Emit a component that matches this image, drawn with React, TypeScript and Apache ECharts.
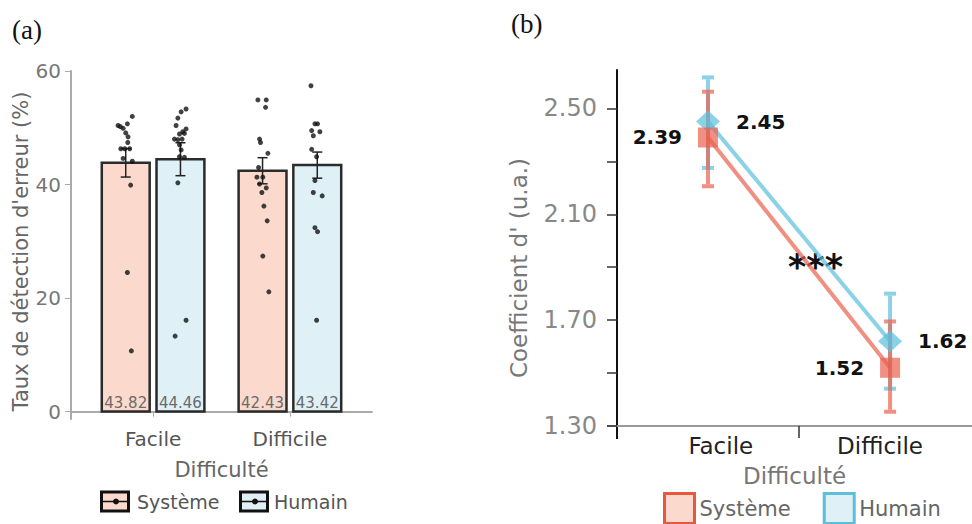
import React, { useEffect, useRef } from 'react';
import * as echarts from 'echarts';

// ---------- shared ----------
const categories = ['Facile', 'Difficile'];

// ---------- panel (a): taux de détection ----------
const yTicksA = [0, 20, 40, 60];
const meanSysteme = [43.82, 42.43];
const meanHumain = [44.46, 43.42];
const seSysteme = [2.5, 2.3];
const seHumain = [2.9, 2.3];

const ptsSystemeFacile = [52.0, 50.7, 50.4, 50.2, 49.9, 49.1, 48.4, 47.4, 46.3, 46.3, 46.3, 44.6, 44.1, 39.9, 24.5, 10.7];
const jitSystemeFacile = [0.048, 0.012, -0.056, -0.039, -0.019, 0, 0.017, 0.015, -0.036, -0.007, 0.029, -0.019, 0.048, 0.036, 0.012, 0.041];
const ptsHumainFacile = [53.3, 52.8, 51.7, 50.4, 49.8, 49.3, 48.9, 49.0, 48.0, 47.9, 48.0, 47.0, 46.1, 44.9, 44.8, 40.3, 16.1, 13.3];
const jitHumainFacile = [0.041, 0.005, -0.019, -0.032, 0.041, 0.017, -0.007, 0.029, -0.044, -0.019, 0.012, -0.007, 0.005, -0.007, 0.029, -0.019, 0.041, -0.039];
const ptsSystemeDifficile = [54.9, 54.9, 53.6, 48.0, 47.4, 45.5, 43.0, 41.3, 41.3, 40.1, 39.4, 38.6, 36.2, 33.6, 27.4, 21.1];
const jitSystemeDifficile = [-0.034, 0.027, 0.022, -0.022, -0.015, 0.039, -0.029, -0.041, 0.002, -0.022, 0.027, -0.005, 0.01, 0.034, 0.002, 0.046];
const ptsHumainDifficile = [57.4, 50.7, 50.7, 49.5, 49.3, 48.6, 46.2, 44.9, 40.7, 38.6, 38.0, 32.4, 31.7, 16.1];
const jitHumainDifficile = [-0.046, -0.017, 0.002, -0.041, 0.019, -0.029, -0.041, -0.005, -0.017, -0.029, 0.036, -0.017, 0.002, -0.005];

// ---------- panel (b): coefficient d' ----------
const yTicksB = [1.3, 1.7, 2.1, 2.5];
const yTickMarksB = [1.3, 1.5, 1.7, 1.9, 2.1, 2.3, 2.5];
const dSysteme = [2.39, 1.52];
const dSystemeLo = [2.206, 1.354];
const dSystemeHi = [2.563, 1.695];
const dHumain = [2.45, 1.62];
const dHumainLo = [2.275, 1.441];
const dHumainHi = [2.617, 1.8];

const FONT = 'DejaVu Sans';
const BAR_W = 0.35;
const DODGE = 0.2;
const sysFill = '#fbdacd';
const humFill = '#dff0f6';
const sysLine = 'rgba(234,95,77,0.7)';
const humLine = 'rgba(91,191,220,0.7)';

function barSeries(name: string, means: number[], offset: number, fill: string) {
  return {
    type: 'custom',
    name,
    xAxisIndex: 0,
    yAxisIndex: 0,
    z: 2,
    silent: true,
    data: means.map((m, i) => [i + 1 + offset, m]),
    renderItem: (_p: any, api: any) => {
      const x = api.value(0) as number;
      const v = api.value(1) as number;
      const tl = api.coord([x - BAR_W / 2, v]);
      const br = api.coord([x + BAR_W / 2, 0]);
      return {
        type: 'group',
        children: [
          {
            type: 'rect',
            shape: { x: tl[0], y: tl[1], width: br[0] - tl[0], height: br[1] - tl[1] },
            style: { fill, stroke: '#2b2b2b', lineWidth: 2.5 },
          },
          {
            type: 'text',
            style: {
              text: v.toFixed(2),
              x: (tl[0] + br[0]) / 2,
              y: br[1] - 1,
              align: 'center',
              verticalAlign: 'bottom',
              fill: '#6b6b6b',
              fontSize: 15,
              fontFamily: FONT,
            },
          },
        ],
      };
    },
  };
}

function errSeriesA(name: string, means: number[], ses: number[], offset: number) {
  return {
    type: 'custom',
    name,
    xAxisIndex: 0,
    yAxisIndex: 0,
    z: 3,
    silent: true,
    data: means.map((m, i) => [i + 1 + offset, m - ses[i], m + ses[i]]),
    renderItem: (_p: any, api: any) => {
      const x = api.value(0);
      const a = api.coord([x, api.value(2)]);
      const b = api.coord([x, api.value(1)]);
      const c = 5;
      const st = { stroke: '#222', lineWidth: 1.5 };
      return {
        type: 'group',
        children: [
          { type: 'line', shape: { x1: a[0], y1: a[1], x2: b[0], y2: b[1] }, style: st },
          { type: 'line', shape: { x1: a[0] - c, y1: a[1], x2: a[0] + c, y2: a[1] }, style: st },
          { type: 'line', shape: { x1: b[0] - c, y1: b[1], x2: b[0] + c, y2: b[1] }, style: st },
        ],
      };
    },
  };
}

function pointSeries(name: string, vals: number[][], jit: number[][], offset: number) {
  const data: number[][] = [];
  vals.forEach((arr, ci) => arr.forEach((v, k) => data.push([ci + 1 + offset + jit[ci][k], v])));
  return {
    type: 'scatter',
    name,
    xAxisIndex: 0,
    yAxisIndex: 0,
    z: 4,
    silent: true,
    symbolSize: 5,
    itemStyle: { color: '#111' },
    data,
  };
}

function errSeriesB(name: string, lo: number[], hi: number[], color: string, z: number) {
  return {
    type: 'custom',
    name,
    xAxisIndex: 1,
    yAxisIndex: 1,
    z,
    silent: true,
    data: lo.map((l, i) => [i + 1, l, hi[i]]),
    renderItem: (_p: any, api: any) => {
      const x = api.value(0);
      const a = api.coord([x, api.value(2)]);
      const b = api.coord([x, api.value(1)]);
      const c = 6;
      const st = { stroke: color, lineWidth: 4 };
      return {
        type: 'group',
        children: [
          { type: 'line', shape: { x1: a[0], y1: a[1] + 2, x2: b[0], y2: b[1] - 2 }, style: st },
          { type: 'line', shape: { x1: a[0] - c, y1: a[1], x2: a[0] + c, y2: a[1] }, style: st },
          { type: 'line', shape: { x1: b[0] - c, y1: b[1], x2: b[0] + c, y2: b[1] }, style: st },
        ],
      };
    },
  };
}

function lineSeries(name: string, vals: number[], color: string, symbol: string, symbolSize: any, pos: string, z: number) {
  return {
    type: 'line',
    name,
    xAxisIndex: 1,
    yAxisIndex: 1,
    z,
    silent: true,
    data: vals.map((v, i) => [i + 1, v]),
    symbol,
    symbolSize,
    showSymbol: true,
    lineStyle: { color, width: 4 },
    itemStyle: { color },
    label: {
      show: true,
      position: pos,
      distance: 16,
      formatter: (p: any) => (p.value[1] as number).toFixed(2),
      fontSize: 20,
      fontWeight: 'bold',
      color: '#111',
      fontFamily: FONT,
    },
  };
}

const legendA = (x: number, fill: string, label: string, textX: number) => [
  { type: 'rect', shape: { x: x + 1.5, y: 492, width: 27, height: 19 }, style: { fill, stroke: '#111', lineWidth: 3 } },
  { type: 'line', shape: { x1: x + 1.5, y1: 501.5, x2: x + 28.5, y2: 501.5 }, style: { stroke: '#111', lineWidth: 1.5 } },
  { type: 'circle', shape: { cx: x + 16, cy: 501.5, r: 3 }, style: { fill: '#111' } },
  { type: 'text', x: textX, y: 501.5, style: { text: label, fontSize: 19, fontFamily: FONT, fill: '#555', verticalAlign: 'middle' } },
];

const option: any = {
  animation: false,
  backgroundColor: '#ffffff',
  grid: [
    { left: 71, right: 600, top: 71, bottom: 105 },
    { left: 617, right: 0, top: 70, bottom: 98 },
  ],
  xAxis: [
    {
      type: 'value',
      gridIndex: 0,
      min: 0.4,
      max: 2.6,
      splitLine: { show: false },
      axisLine: { show: true, lineStyle: { color: '#aaaaaa', width: 2 } },
      axisTick: { show: true, customValues: [1, 2], length: 5, lineStyle: { color: '#aaaaaa' } },
      axisLabel: {
        customValues: [1, 2],
        formatter: (v: number) => categories[Math.round(v) - 1],
        color: '#555',
        fontSize: 20,
        fontFamily: FONT,
        margin: 10,
      },
      name: 'Difficulté',
      nameLocation: 'middle',
      nameGap: 40,
      nameTextStyle: { fontSize: 21, color: '#666', fontFamily: FONT },
    },
    {
      type: 'value',
      gridIndex: 1,
      min: 0.5,
      max: 2.45,
      splitLine: { show: false },
      axisLine: { show: true, lineStyle: { color: '#999999', width: 2 } },
      axisTick: { show: true, customValues: [1.5], length: 12, lineStyle: { color: '#333', width: 1.5 } },
      axisLabel: {
        customValues: [1.07, 1.945],
        formatter: (v: number) => (v < 1.5 ? categories[0] : categories[1]),
        color: '#222',
        fontSize: 23,
        fontFamily: FONT,
        margin: 8,
      },
      name: 'Difficulté',
      nameLocation: 'middle',
      nameGap: 38,
      nameTextStyle: { fontSize: 23, color: '#777', fontFamily: FONT },
    },
  ],
  yAxis: [
    {
      type: 'value',
      gridIndex: 0,
      min: -1.3,
      max: 60,
      splitLine: { show: false },
      axisLine: { show: true, lineStyle: { color: '#aaaaaa', width: 2 } },
      axisTick: { show: true, customValues: yTicksA, length: 6, lineStyle: { color: '#aaaaaa' } },
      axisLabel: { customValues: yTicksA, color: '#777', fontSize: 20, fontFamily: FONT, margin: 10 },
      name: "Taux de détection d'erreur (%)",
      nameLocation: 'middle',
      nameGap: 37,
      nameTextStyle: { fontSize: 21, color: '#666', fontFamily: FONT, padding: [0, 13, 0, 0] },
    },
    {
      type: 'value',
      gridIndex: 1,
      min: 1.3,
      max: 2.645,
      splitLine: { show: false },
      axisLine: { show: true, lineStyle: { color: '#111', width: 2 } },
      axisTick: { show: true, customValues: yTickMarksB, length: 10, lineStyle: { color: '#333', width: 1.5 } },
      axisLabel: {
        customValues: yTicksB,
        formatter: (v: number) => v.toFixed(2),
        color: '#888',
        fontSize: 24,
        fontFamily: FONT,
        margin: 20,
      },
      name: "Coefficient d' (u.a.)",
      nameLocation: 'middle',
      nameGap: 87,
      nameTextStyle: { fontSize: 23, color: '#777', fontFamily: FONT, padding: [0, 40, 0, 0] },
    },
  ],
  legend: {
    left: 663,
    top: 492,
    padding: 0,
    itemWidth: 30,
    itemHeight: 30,
    itemGap: 32,
    icon: 'rect',
    selectedMode: false,
    textStyle: { fontSize: 21, color: '#666', fontFamily: FONT },
    data: [
      { name: 'Système', icon: 'rect', itemStyle: { color: sysFill, borderColor: '#e9573d', borderWidth: 3 } },
      { name: 'Humain', icon: 'rect', itemStyle: { color: humFill, borderColor: '#5bbfdc', borderWidth: 3 } },
    ],
  },
  graphic: [
    { type: 'text', x: 12, y: 16, style: { text: '(a)', fontSize: 27, fontFamily: 'Liberation Serif', fill: '#111' } },
    { type: 'text', x: 511, y: 10, style: { text: '(b)', fontSize: 27, fontFamily: 'Liberation Serif', fill: '#111' } },
    {
      type: 'text',
      x: 815.5,
      y: 267,
      style: { text: '***', fontSize: 35, fontWeight: 'bold', fontFamily: FONT, fill: '#111', align: 'center', verticalAlign: 'middle' },
    },
    { type: 'line', shape: { x1: 617, y1: 425, x2: 617, y2: 439 }, style: { stroke: '#111', lineWidth: 2 } },
    { type: 'line', shape: { x1: 607, y1: 426, x2: 617, y2: 426 }, style: { stroke: '#999999', lineWidth: 2 } },
    { type: 'group', children: [...legendA(100, sysFill, 'Système', 137), ...legendA(239, humFill, 'Humain', 274)] },
  ],
  series: [
    barSeries('Système', meanSysteme, -DODGE, sysFill),
    barSeries('Humain', meanHumain, DODGE, humFill),
    errSeriesA('Système', meanSysteme, seSysteme, -DODGE),
    errSeriesA('Humain', meanHumain, seHumain, DODGE),
    pointSeries('Système', [ptsSystemeFacile, ptsSystemeDifficile], [jitSystemeFacile, jitSystemeDifficile], -DODGE),
    pointSeries('Humain', [ptsHumainFacile, ptsHumainDifficile], [jitHumainFacile, jitHumainDifficile], DODGE),
    errSeriesB('Humain', dHumainLo, dHumainHi, humLine, 2),
    errSeriesB('Système', dSystemeLo, dSystemeHi, sysLine, 3),
    lineSeries('Humain', dHumain, humLine, 'diamond', [24, 22], 'right', 4),
    lineSeries('Système', dSysteme, sysLine, 'rect', 20, 'left', 5),
  ],
};

export default function App() {
  const ref = useRef<HTMLDivElement>(null);
  useEffect(() => {
    if (!ref.current) return;
    const chart = echarts.init(ref.current, undefined, { renderer: 'svg' });
    chart.setOption(option);
    return () => chart.dispose();
  }, []);
  return <div ref={ref} style={{ position: 'fixed', left: 0, top: 0, width: 972, height: 524 }} />;
}
